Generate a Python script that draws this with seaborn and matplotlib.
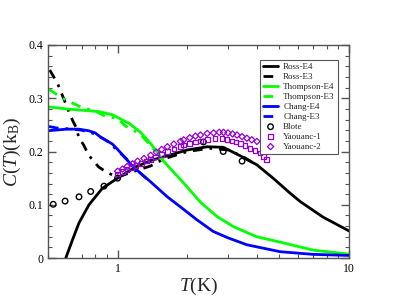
import numpy as np
import pandas as pd
import matplotlib
matplotlib.use('Agg')
import matplotlib.pyplot as plt
import matplotlib.ticker as mticker
import seaborn as sns

# --- data ---
ross_e4_T = [0.597, 0.638, 0.681, 0.752, 0.859, 1.0, 1.195, 1.41, 1.64, 2.0, 2.44, 2.86, 3.39, 4.0, 4.7, 5.56, 6.16, 7.72, 10.0]
ross_e4_C = [0.0, 0.034, 0.066, 0.100, 0.131, 0.150, 0.171, 0.184, 0.192, 0.203, 0.209, 0.208, 0.192, 0.175, 0.150, 0.122, 0.106, 0.077, 0.051]

ross_e3_T = [0.509, 0.55, 0.574, 0.613, 0.638, 0.664, 0.679, 0.714, 0.75, 0.828, 0.906, 1.0, 1.22, 1.39, 1.58, 2.0, 2.5, 3.0, 3.5, 4.0]
ross_e3_C = [0.353, 0.328, 0.308, 0.277, 0.259, 0.244, 0.227, 0.212, 0.193, 0.171, 0.160, 0.152, 0.165, 0.173, 0.186, 0.200, 0.206, 0.203, 0.190, 0.174]

thompson_e4_T = [0.5, 0.6, 0.68, 0.83, 0.95, 1.12, 1.25, 1.39, 1.48, 1.58, 1.74, 1.93, 2.28, 2.69, 3.17, 3.62, 4.0, 5.04, 7.0, 10.0]
thompson_e4_C = [0.284, 0.280, 0.278, 0.275, 0.269, 0.253, 0.237, 0.215, 0.199, 0.182, 0.162, 0.141, 0.105, 0.078, 0.059, 0.048, 0.040, 0.030, 0.015, 0.0075]

thompson_e3_T = [0.505, 0.55, 0.6, 0.638, 0.7, 0.8, 0.887, 1.0, 1.08, 1.25, 1.4, 1.55]
thompson_e3_C = [0.317, 0.306, 0.296, 0.291, 0.283, 0.276, 0.266, 0.262, 0.248, 0.233, 0.210, 0.185]

chang_e4_T = [0.5, 0.6, 0.68, 0.75, 0.80, 0.845, 0.95, 1.0, 1.17, 1.39, 1.64, 1.87, 2.2, 2.59, 3.0, 3.62, 5.04, 7.0, 10.0]
chang_e4_C = [0.239, 0.242, 0.242, 0.239, 0.235, 0.227, 0.214, 0.204, 0.171, 0.143, 0.115, 0.096, 0.072, 0.050, 0.038, 0.025, 0.012, 0.007, 0.005]

chang_e3_T = [0.505, 0.55, 0.6, 0.7, 0.8, 0.9, 1.0, 1.1, 1.25, 1.4]
chang_e3_C = [0.247, 0.244, 0.243, 0.240, 0.233, 0.220, 0.202, 0.185, 0.160, 0.141]

blote_T = [0.527, 0.593, 0.681, 0.765, 0.873, 1.0, 2.35, 2.86, 3.45]
blote_C = [0.101, 0.107, 0.115, 0.125, 0.135, 0.150, 0.218, 0.200, 0.182]

yaou1_T = [1.0, 1.05, 1.1, 1.15, 1.2, 1.27, 1.33, 1.39, 1.46, 1.55, 1.64, 1.75, 1.87, 1.93, 2.05, 2.17, 2.28, 2.45, 2.64, 2.83, 2.97, 3.12, 3.25, 3.39, 3.55, 3.74, 3.92, 4.13, 4.27, 4.41]
yaou1_C = [0.158, 0.162, 0.166, 0.170, 0.174, 0.178, 0.182, 0.185, 0.190, 0.195, 0.200, 0.205, 0.209, 0.212, 0.215, 0.218, 0.220, 0.223, 0.225, 0.225, 0.223, 0.220, 0.218, 0.215, 0.211, 0.206, 0.202, 0.197, 0.191, 0.185]

yaou2_T = [1.0, 1.05, 1.1, 1.16, 1.22, 1.3, 1.39, 1.47, 1.55, 1.64, 1.75, 1.87, 1.93, 2.05, 2.17, 2.28, 2.44, 2.6, 2.75, 2.87, 3.0, 3.14, 3.28, 3.45, 3.62, 3.8, 4.0]
yaou2_C = [0.163, 0.167, 0.172, 0.177, 0.182, 0.187, 0.193, 0.199, 0.204, 0.209, 0.214, 0.219, 0.222, 0.226, 0.229, 0.231, 0.234, 0.235, 0.236, 0.236, 0.235, 0.233, 0.231, 0.228, 0.225, 0.222, 0.219]

x_ticks = [1, 10]
x_ticklabels = ['1', '10']
y_ticks = [0, 0.1, 0.2, 0.3, 0.4]
y_ticklabels = ['0', '0.1', '0.2', '0.3', '0.4']

# --- style ---
sns.set_style('ticks')
plt.rcParams['font.family'] = ['Liberation Serif', 'DejaVu Serif']
plt.rcParams['mathtext.fontset'] = 'custom'
plt.rcParams['mathtext.rm'] = 'Liberation Serif'
plt.rcParams['mathtext.it'] = 'Liberation Serif:italic'

green = '#00ff00'
blue = '#0000ff'
purple = '#9400d3'
e3_dash = (0, (3.5, 2.5, 1, 2.5))

fig = plt.figure(figsize=(3.93, 3.04), dpi=100)
ax = fig.add_axes([0.122, 0.151, 0.766, 0.701])

sns.lineplot(x=ross_e4_T, y=ross_e4_C, color='black', lw=2, label='Ross-E4', ax=ax)
sns.lineplot(x=ross_e3_T, y=ross_e3_C, color='black', lw=2, linestyle=e3_dash, label='Ross-E3', ax=ax)
sns.lineplot(x=thompson_e4_T, y=thompson_e4_C, color=green, lw=2, label='Thompson-E4', ax=ax)
sns.lineplot(x=thompson_e3_T, y=thompson_e3_C, color=green, lw=2, linestyle=e3_dash, label='Thompson-E3', ax=ax)
sns.lineplot(x=chang_e4_T, y=chang_e4_C, color=blue, lw=2, label='Chang-E4', ax=ax)
sns.lineplot(x=chang_e3_T, y=chang_e3_C, color=blue, lw=2, linestyle=e3_dash, label='Chang-E3', ax=ax)
sns.scatterplot(x=blote_T, y=blote_C, marker='o', s=16, facecolor='none', edgecolor='black', linewidth=1.0, label='Blote', ax=ax, zorder=4)
sns.scatterplot(x=yaou1_T, y=yaou1_C, marker='s', s=11, facecolor='none', edgecolor=purple, linewidth=0.9, label='Yaouanc-1', ax=ax, zorder=4)
sns.scatterplot(x=yaou2_T, y=yaou2_C, marker='D', s=10, facecolor='none', edgecolor=purple, linewidth=0.9, label='Yaouanc-2', ax=ax, zorder=4)

ax.set_xscale('log')
ax.set_xlim(0.5, 10)
ax.set_ylim(0, 0.4)
ax.set_xticks(x_ticks)
ax.set_xticklabels(x_ticklabels)
ax.xaxis.set_minor_locator(mticker.LogLocator(base=10, subs=np.arange(2, 10)))
ax.xaxis.set_minor_formatter(mticker.NullFormatter())
ax.set_yticks(y_ticks)
ax.set_yticklabels(y_ticklabels)
ax.yaxis.set_minor_locator(mticker.MultipleLocator(0.02))

for s in ax.spines.values():
    s.set_color('#555555')
    s.set_linewidth(1.0)
    s.set_visible(True)
ax.tick_params(which='both', direction='in', top=True, right=True, colors='#555555', labelcolor='black', labelsize=8.5)
ax.tick_params(which='major', length=6, width=1)
ax.tick_params(which='minor', length=3, width=0.8)

ax.set_xlabel(r'$T$(K)', fontsize=14, labelpad=1)
ax.set_ylabel(r'$C(T)$(k$_\mathrm{B}$)', fontsize=14, labelpad=4)

leg = ax.legend(loc='upper right', bbox_to_anchor=(0.963, 0.93), borderaxespad=0, fontsize=6.5,
                frameon=True, fancybox=False, edgecolor='#555555', framealpha=1,
                handlelength=1.6, handletextpad=0.6, labelspacing=0.18, borderpad=0.35)
leg.get_frame().set_linewidth(0.8)

fig.savefig('out.png', dpi=100)
